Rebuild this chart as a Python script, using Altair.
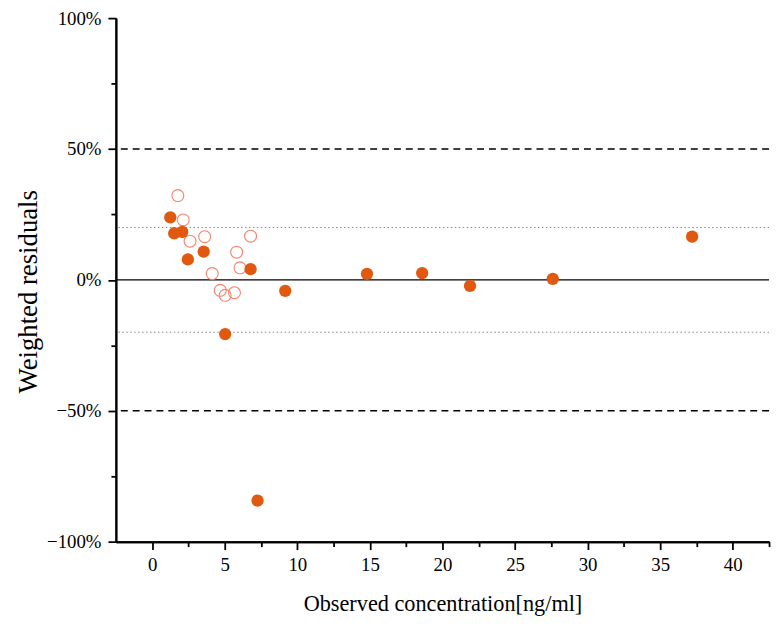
import altair as alt
import pandas as pd

# Filled markers
filled_x = [1.25, 1.52, 2.07, 2.46, 3.55, 5.03, 6.78, 7.26, 9.17, 14.8, 18.6, 21.9, 27.6, 37.2]
filled_y = [23.9, 17.8, 18.3, 7.8, 10.8, -20.7, 4.1, -84.3, -4.2, 2.3, 2.6, -2.3, 0.4, 16.5]
# Open markers
open_x = [1.77, 2.14, 2.61, 3.62, 4.14, 4.69, 5.03, 5.67, 5.82, 6.05, 6.78]
open_y = [32.2, 22.9, 14.8, 16.5, 2.4, -4.0, -5.9, -4.9, 10.6, 4.6, 16.7]

dashed_lines = [50, -50]
dotted_lines = [20, -20]
zero_line = [0]

x_major = [0, 5, 10, 15, 20, 25, 30, 35, 40]
x_minor = [2.5, 7.5, 12.5, 17.5, 22.5, 27.5, 32.5, 37.5, 42.5]
y_major = [-100, -50, 0, 50, 100]
y_minor = [-75, -25, 25, 75]

FONT = "Liberation Serif"
FILL = "#e0590f"
OPEN = "#f4836b"

xs = alt.Scale(domain=[-2.5, 42.5], nice=False, zero=False)
ys = alt.Scale(domain=[-100, 100], nice=False, zero=False)

df_f = pd.DataFrame({"x": filled_x, "y": filled_y})
df_o = pd.DataFrame({"x": open_x, "y": open_y})

label_expr = "replace(datum.value + '%', '-', '\u2212')"

dashed = alt.Chart(pd.DataFrame({"y": dashed_lines})).mark_rule(
    color="black", strokeWidth=1.3, strokeDash=[7, 5]
).encode(y=alt.Y("y:Q", scale=ys, axis=None))

dotted = alt.Chart(pd.DataFrame({"y": dotted_lines})).mark_rule(
    color="#888888", strokeWidth=1, strokeDash=[1.5, 2.5]
).encode(y=alt.Y("y:Q", scale=ys, axis=None))

zero = alt.Chart(pd.DataFrame({"y": zero_line})).mark_rule(
    color="black", strokeWidth=1.3
).encode(y=alt.Y("y:Q", scale=ys, axis=None))

filled_pts = alt.Chart(df_f).mark_point(
    filled=True, shape="circle", size=155, color=FILL, opacity=1
).encode(
    x=alt.X("x:Q", scale=xs, axis=alt.Axis(
        orient="bottom", values=x_minor, labels=False, title=None,
        tickSize=5, tickWidth=1.8, domainWidth=2, domainColor="black",
        tickColor="black", grid=False)),
    y=alt.Y("y:Q", scale=ys, axis=alt.Axis(
        orient="left", values=y_minor, labels=False, title=None,
        tickSize=5, tickWidth=1.8, domainWidth=2, domainColor="black",
        tickColor="black", grid=False)),
)

open_pts = alt.Chart(df_o).mark_point(
    filled=False, shape="circle", size=145, stroke=OPEN, strokeWidth=1.1, opacity=1
).encode(
    x=alt.X("x:Q", scale=xs, axis=alt.Axis(
        orient="bottom", values=x_major, title="Observed concentration[ng/ml]",
        tickSize=8, tickWidth=1.8, domainWidth=2, domainColor="black",
        tickColor="black", grid=False, labelFont=FONT, labelFontSize=19,
        labelColor="black", labelPadding=6, titleFont=FONT, titleFontSize=22.5,
        titleFontWeight="normal", titleColor="black", titlePadding=19)),
    y=alt.Y("y:Q", scale=ys, axis=alt.Axis(
        orient="left", values=y_major, labelExpr=label_expr,
        title="Weighted residuals", titleY=276,
        tickSize=8, tickWidth=1.8, domainWidth=2, domainColor="black",
        tickColor="black", grid=False, labelFont=FONT, labelFontSize=19,
        labelColor="black", labelPadding=7, titleFont=FONT, titleFontSize=27,
        titleFontWeight="normal", titleColor="black", titlePadding=4)),
)

chart = alt.layer(dotted, dashed, zero, open_pts, filled_pts).resolve_axis(
    x="independent", y="independent"
).properties(
    width=660, height=529,
    autosize=alt.AutoSizeParams(type="none"),
    padding={"left": 109, "top": 7, "right": 5, "bottom": 80},
).configure_view(stroke=None)

chart.save("out.html", embed_options={"renderer": "svg", "actions": False})
